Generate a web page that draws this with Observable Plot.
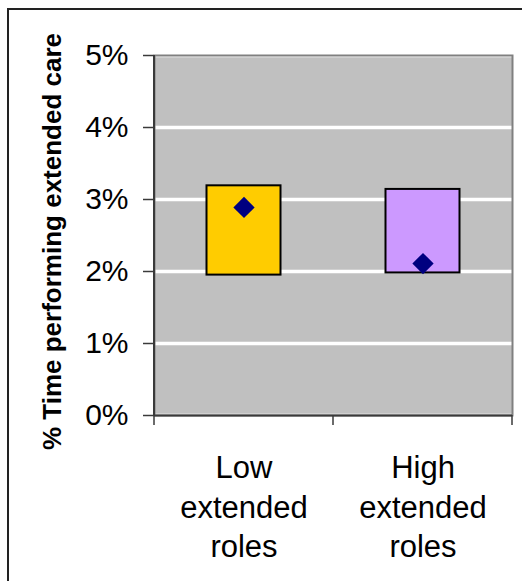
<!DOCTYPE html>
<html>
<head>
<meta charset="utf-8">
<script src="https://cdn.jsdelivr.net/npm/d3@7"></script>
<script src="https://cdn.jsdelivr.net/npm/@observablehq/plot@0.6"></script>
<style>
  html, body { margin: 0; padding: 0; background: #fff; overflow: hidden; }
  #wrap { position: relative; width: 522px; height: 581px; overflow: hidden; }
  #border { position: absolute; left: 7px; top: 8px; width: 600px; height: 700px; border: 2px solid #222; }
  #chart { position: absolute; left: 0; top: 0; }
</style>
</head>
<body>
<div id="wrap"><div id="border"></div><div id="chart"></div></div>
<script>
// Share of time spent on extended care: range box and point estimate per group
const categories = ["Low extended roles", "High extended roles"];
const categoryLabels = ["Low\nextended\nroles", "High\nextended\nroles"];
const rangeLow = [0.0195, 0.0198];
const rangeHigh = [0.0319, 0.0314];
const pointValues = [0.0289, 0.0211];
const barColors = ["#FFCC00", "#CC99FF"];
const yTicks = [0, 0.01, 0.02, 0.03, 0.04, 0.05];
const yTitle = "% Time performing extended care";

const rows = categories.map((c, i) => ({
  category: c,
  label: categoryLabels[i],
  low: rangeLow[i],
  high: rangeHigh[i],
  value: pointValues[i],
  color: barColors[i]
}));

const axisColor = "#3a3a3a";

// Left axis line plus x ticks at the band boundaries
function bandAxis(index, scales, values, dimensions) {
  const {width, height, marginLeft, marginRight, marginBottom} = dimensions;
  const bottom = height - marginBottom;
  const edges = categories.map(c => scales.x(c)).concat([width - marginRight]);
  const g = d3.create("svg:g");
  g.selectAll("line.tick").data(edges).join("line")
    .attr("x1", d => d).attr("x2", d => d)
    .attr("y1", bottom).attr("y2", bottom + 10)
    .attr("stroke", axisColor).attr("stroke-width", 1.5);
  g.append("line")
    .attr("x1", marginLeft).attr("x2", marginLeft)
    .attr("y1", dimensions.marginTop).attr("y2", bottom)
    .attr("stroke", axisColor).attr("stroke-width", 2);
  return g.node();
}

const chart = Plot.plot({
  width: 522,
  height: 581,
  marginLeft: 154,
  marginRight: 10,
  marginTop: 55,
  marginBottom: 166,
  style: {fontFamily: "'Liberation Sans', Arial, sans-serif", background: "transparent", color: "#000"},
  x: {type: "band", domain: categories, padding: 0, axis: null},
  y: {domain: [0, 0.05], axis: null},
  marks: [
    Plot.frame({fill: "#c0c0c0"}),
    Plot.gridY(yTicks, {stroke: "#fff", strokeOpacity: 1, strokeWidth: 3.5}),
    Plot.frame({stroke: "#808080", strokeWidth: 2}),
    Plot.ruleY([0], {stroke: axisColor, strokeWidth: 2}),
    bandAxis,
    Plot.axisY({
      ticks: yTicks,
      tickFormat: d3.format(".0%"),
      tickSize: 11,
      tickPadding: 15,
      fontSize: 30,
      stroke: axisColor,
      strokeWidth: 1.5,
      fill: "#000"
    }),
    Plot.barY(rows, {
      x: "category",
      y1: "low",
      y2: "high",
      fill: "color",
      stroke: "#000",
      strokeWidth: 2,
      insetLeft: 52.5,
      insetRight: 52.5
    }),
    Plot.dot(rows, {
      x: "category",
      y: "value",
      symbol: "diamond2",
      r: 9.6,
      fill: "#000080",
      stroke: "none"
    }),
    Plot.text(rows, {
      x: "category",
      frameAnchor: "bottom",
      text: "label",
      lineAnchor: "top",
      lineHeight: 1.27,
      dy: 35,
      fontSize: 31,
      fill: "#000"
    }),
    Plot.text([yTitle], {
      frameAnchor: "left",
      text: d => d,
      textAnchor: "middle",
      rotate: -90,
      dx: -102,
      dy: 6,
      fontSize: 26,
      fontWeight: "bold",
      fill: "#000"
    })
  ]
});

document.getElementById("chart").appendChild(chart);
</script>
</body>
</html>
